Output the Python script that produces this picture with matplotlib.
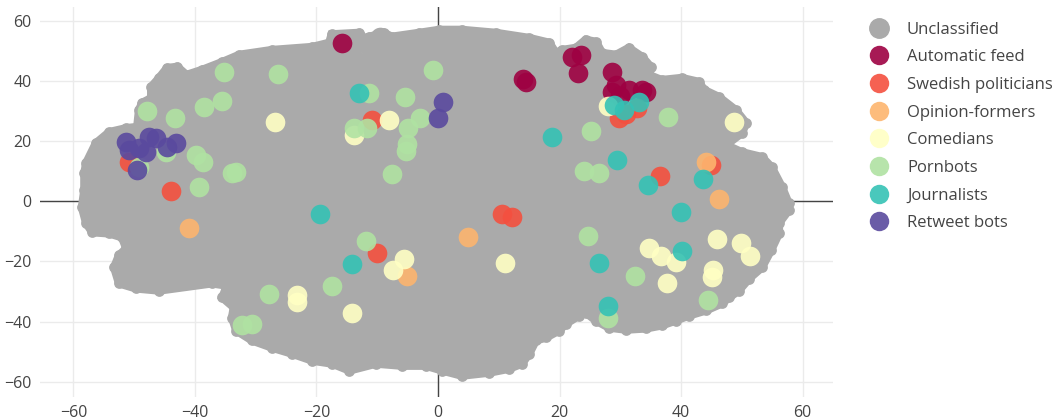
import matplotlib
matplotlib.use('Agg')
import matplotlib.pyplot as plt
from matplotlib.lines import Line2D

plt.rcParams['font.family'] = ['Open Sans', 'DejaVu Sans']

# outline of the grey "Unclassified" cloud
blob_x = [-58.6, -58.2, -58.2, -57.9, -56.3, -54.1, -51.3, -49.5, -49.2, -48.7, -47.2, -47.2, -45.9, -44.6,
          -42.9, -41.4, -38.8, -35.5, -32.7, -27.3, -20.7, -17.9, -17.5, -13.0, -11.5, -13.5, -11.3, -11.8,
          -11.3, -8.9, -7.6, -3.1, 0.2, 3.9, 9.5, 15.0, 18.3, 19.4, 20.4, 22.7, 24.3, 26.0, 27.0, 29.3,
          31.4, 33.6, 35.0, 34.7, 36.8, 40.1, 42.9, 43.8, 46.2, 49.0, 50.7, 50.0, 47.4, 50.0, 53.3, 54.9,
          56.6, 57.7, 57.7, 56.1, 56.1, 54.8, 53.3, 51.2, 49.5, 47.9, 46.7, 44.1, 41.3, 39.1, 36.8, 34.2,
          30.9, 28.1, 26.0, 24.3, 23.2, 21.1, 19.9, 17.8, 16.1, 15.0, 13.8, 11.7, 8.4, 3.9, 0.7, -2.0,
          -5.9, -10.2, -14.6, -17.4, -20.7, -24.0, -27.3, -30.6, -33.2, -33.9, -33.6, -35.5, -34.9, -32.7,
          -37.2, -45.9, -49.7, -52.5, -53.3, -52.5, -51.3, -52.0, -54.1, -56.9, -57.9]
blob_y = [-2.0, 3.7, 9.3, 12.7, 19.3, 23.0, 24.3, 24.7, 30.3, 32.7, 34.3, 38.0, 41.0, 44.3,
          44.7, 42.0, 43.7, 46.3, 48.7, 50.3, 51.3, 52.7, 55.5, 56.0, 53.0, 50.0, 42.7, 50.3,
          54.7, 56.0, 54.7, 56.0, 57.0, 57.0, 56.0, 54.3, 52.7, 49.3, 50.3, 51.0, 53.7, 53.0, 49.3, 48.7,
          51.0, 48.0, 44.7, 42.0, 40.3, 41.0, 39.7, 37.0, 34.7, 30.3, 26.0, 22.7, 18.7, 16.3, 14.7, 11.3,
          4.7, -0.7, -3.0, -7.3, -10.7, -16.3, -22.0, -25.7, -29.7, -32.0, -34.0, -36.3, -38.0, -39.7, -41.3, -42.3,
          -42.7, -42.0, -39.7, -37.0, -38.0, -40.7, -43.0, -45.3, -46.3, -50.7, -54.0, -55.7, -57.0, -58.0, -56.3, -54.7,
          -54.7, -54.0, -56.3, -54.0, -53.0, -50.7, -48.7, -46.3, -43.0, -38.7, -35.3, -32.0, -29.0, -28.7,
          -27.3, -29.7, -29.0, -27.3, -22.0, -18.0, -15.7, -12.0, -10.7, -10.3, -7.3]

# a few loose grey dots sticking out of the cloud's edge
loose_x = [-16.5, -13.5, -9.5]
loose_y = [53.5, 53.5, 54.5]

feed_x = [-15.8, 14.0, 14.5, 22.0, 23.5, 23.0, 28.6, 29.3, 28.6, 31.4, 33.6, 34.2, 30.0]
feed_y = [52.7, 40.5, 39.5, 48.0, 48.7, 42.7, 43.0, 38.7, 36.3, 37.0, 37.0, 36.3, 35.0]

pol_x = [-43.9, -50.8, -10.9, 29.8, 31.0, 32.7, 36.5, 45.0, 10.5, 12.2, -10.0]
pol_y = [3.3, 13.0, 27.0, 27.7, 29.0, 31.0, 8.3, 12.0, -4.3, -5.4, -17.3]

opin_x = [-41.0, -5.1, 4.9, 44.1, 46.2]
opin_y = [-9.0, -24.7, -12.0, 13.0, 0.7]

com_x = [-26.8, -8.1, -13.8, 48.7, 28.0, -23.2, -23.2, -14.1, -5.6, -7.4, 11.0, 34.7, 36.7, 39.1,
         37.7, 45.9, 49.8, 51.3, 45.2, 45.1]
com_y = [26.3, 27.0, 22.0, 26.3, 31.7, -31.3, -33.6, -37.0, -19.3, -22.7, -20.7, -15.7, -18.3, -20.3,
         -27.3, -12.7, -14.0, -18.3, -23.0, -25.3]

porn_x = [-47.9, -43.3, -35.2, -26.3, -38.5, -35.5, -39.8, -38.6, -33.9, -33.2, -39.3, -44.7, -49.2,
          -11.3, -13.8, -11.7, -5.4, -0.8, -3.0, -4.9, -5.1, -5.3, -7.6, 25.2, 37.8, 24.0, 26.5,
          -27.8, -32.2, -30.6, -17.4, -11.8, 24.7, 32.4, 28.0, 44.4]
porn_y = [30.0, 27.7, 43.0, 42.3, 31.3, 33.3, 15.3, 13.0, 9.3, 9.7, 4.7, 16.3, 11.3,
          36.0, 24.3, 24.3, 34.7, 43.7, 27.7, 24.3, 19.0, 16.7, 9.0, 23.3, 28.0, 10.0, 9.3,
          -30.7, -41.0, -40.7, -28.3, -13.3, -11.7, -24.7, -38.7, -32.7]

jour_x = [-13.0, -19.4, 18.8, 28.9, 30.6, 33.0, 29.4, 34.5, 43.6, 40.0, 40.1, 26.5, 28.0, -14.1]
jour_y = [36.0, -4.3, 21.3, 32.0, 30.3, 33.0, 13.7, 5.3, 7.3, -3.7, -16.7, -20.7, -34.7, -21.0]

rt_x = [0.8, 0.0, -51.3, -50.8, -47.5, -46.4, -48.0, -44.6, -43.1, -49.5, -49.2]
rt_y = [33.0, 27.7, 19.7, 17.0, 21.3, 21.0, 16.3, 18.0, 19.3, 10.3, 17.7]

groups = [
    ('Automatic feed', feed_x, feed_y, '#9e0142'),
    ('Swedish politicians', pol_x, pol_y, '#f4503f'),
    ('Opinion-formers', opin_x, opin_y, '#fdb56e'),
    ('Comedians', com_x, com_y, '#ffffc4'),
    ('Pornbots', porn_x, porn_y, '#b0e2a2'),
    ('Journalists', jour_x, jour_y, '#35c2b5'),
    ('Retweet bots', rt_x, rt_y, '#5a4a9e'),
]
grey = '#aaaaaa'

fig = plt.figure(figsize=(10.56, 4.2), dpi=100)
ax = fig.add_axes([40 / 1056, 1 - 397 / 420, 793 / 1056, 390 / 420])

ax.fill(blob_x, blob_y, color=grey, lw=6, ec=grey, zorder=2)
ax.scatter(blob_x, blob_y, s=60, color=grey, lw=0, zorder=2)
ax.scatter(loose_x, loose_y, s=200, color=grey, lw=0, zorder=2)

for name, xs, ys, c in groups:
    ax.scatter(xs, ys, s=200, color=c, alpha=0.9, lw=0, zorder=3)

ax.set_xlim(-65.5, 65)
ax.set_ylim(-65.1, 64.6)
ticks = [-60, -40, -20, 0, 20, 40, 60]
ax.set_xticks(ticks)
ax.set_yticks(ticks)
ax.set_xticklabels([str(t).replace('-', '\u2212') for t in ticks])
ax.set_yticklabels([str(t).replace('-', '\u2212') for t in ticks])
ax.grid(True, color='#ebebeb', lw=1, zorder=0)
ax.set_axisbelow(True)
ax.axhline(0, color='#444444', lw=1, zorder=1)
ax.axvline(0, color='#444444', lw=1, zorder=1)
for s in ax.spines.values():
    s.set_visible(False)
ax.tick_params(length=0, labelsize=11.5, labelcolor='#444444', pad=6)

handles = [Line2D([], [], marker='o', ls='', ms=14, color=grey, label='Unclassified')]
for name, xs, ys, c in groups:
    handles.append(Line2D([], [], marker='o', ls='', ms=14, color=c, alpha=0.9, mew=0, label=name))
fig.legend(handles=handles, loc='upper left', bbox_to_anchor=(862 / 1056, 1 - 15 / 420),
           frameon=False, fontsize=12, labelcolor='#444444', labelspacing=0.7,
           handletextpad=1.1, borderaxespad=0, handlelength=1.2)

fig.savefig('out.png', dpi=100)
